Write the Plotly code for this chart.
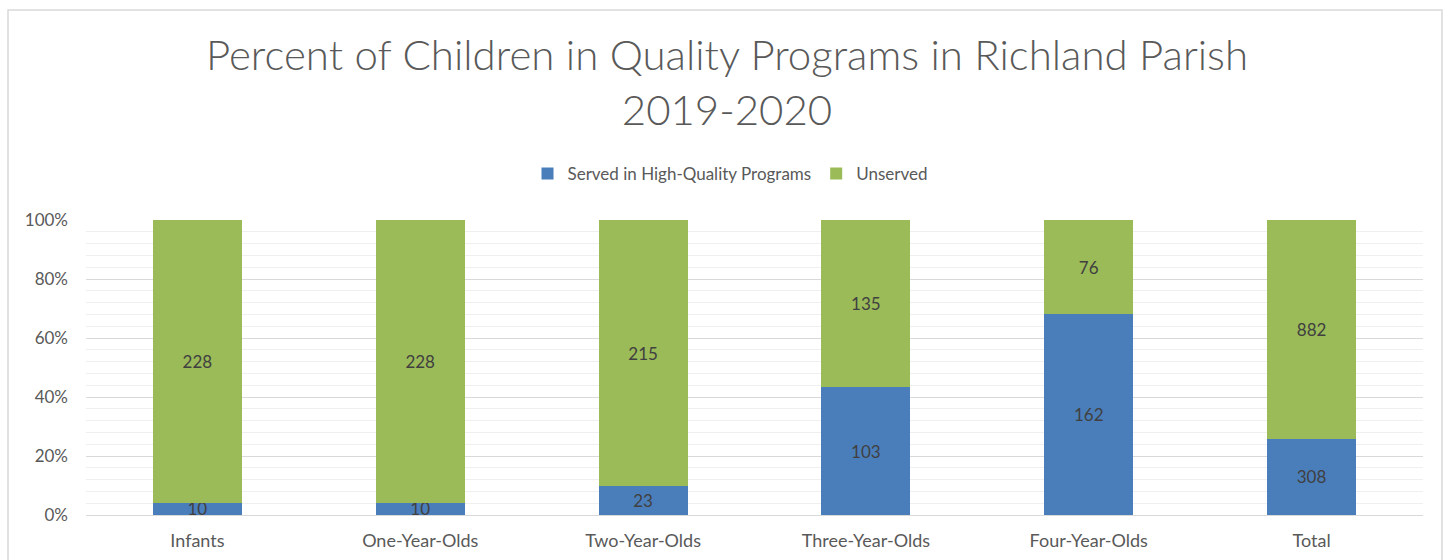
import plotly.graph_objects as go

categories = ["Infants", "One-Year-Olds", "Two-Year-Olds", "Three-Year-Olds", "Four-Year-Olds", "Total"]
served = [10, 10, 23, 103, 162, 308]
unserved = [228, 228, 215, 135, 76, 882]

W, H = 1448, 560
L, R, T, B = 86, 25, 220, 45
pw = W - L - R
ph = H - T - B
FONT = "Lato"

fig = go.Figure()
fig.add_trace(go.Bar(
    x=categories, y=served, name="Served in High-Quality Programs",
    marker=dict(color="#4a7ebb", line=dict(width=0)),
    text=served, textposition="inside", insidetextanchor="middle", textangle=0,
    textfont=dict(color="#404040", size=17, family=FONT),
))
fig.add_trace(go.Bar(
    x=categories, y=unserved, name="Unserved",
    marker=dict(color="#9bbb59", line=dict(width=0)),
    text=unserved, textposition="inside", insidetextanchor="middle", textangle=0,
    textfont=dict(color="#404040", size=17, family=FONT),
))

fig.update_layout(
    width=W, height=H,
    barmode="stack", barnorm="percent", bargap=0.6,
    margin=dict(l=L, r=R, t=T, b=B),
    plot_bgcolor="white", paper_bgcolor="white",
    font=dict(family=FONT, color="#595959", size=17),
    uniformtext=dict(mode="show", minsize=17),
    title=dict(
        text="Percent of Children in Quality Programs in Richland Parish<br>2019-2020",
        x=727 / W, xanchor="center", xref="container",
        y=1 - 70 / H, yanchor="middle", yref="container",
        font=dict(size=42, color="#595959", family=FONT, weight=300),
    ),
    legend=dict(
        orientation="h", xref="container", yref="container",
        x=730 / W, xanchor="center", y=1 - 174 / H, yanchor="middle",
        font=dict(size=17, color="#595959"), itemwidth=30,
        traceorder="normal",
    ),
    showlegend=True,
)
fig.update_yaxes(
    range=[0, 100], dtick=20, ticksuffix="%", automargin=False,
    showgrid=True, gridcolor="#d9d9d9", gridwidth=1,
    minor=dict(dtick=4, showgrid=True, gridcolor="#efefef", gridwidth=1),
    zeroline=False, showline=False, ticks="", ticklabelstandoff=17,
    tickfont=dict(size=17, color="#595959"),
)
fig.update_xaxes(
    automargin=False,
    showline=True, linecolor="#d9d9d9", linewidth=1, ticks="", ticklabelstandoff=9,
    tickfont=dict(size=18, color="#595959"),
)
fig.add_shape(
    type="rect", xref="paper", yref="paper",
    x0=(8 - L) / pw, x1=(1442 - L) / pw,
    y0=-0.5, y1=(H - B - 10) / ph,
    line=dict(color="#d9d9d9", width=1.5), layer="below",
)

fig.write_html("out.html", config={"displayModeBar": False},
               post_script="document.body.style.margin='0';document.body.style.overflow='hidden';")
